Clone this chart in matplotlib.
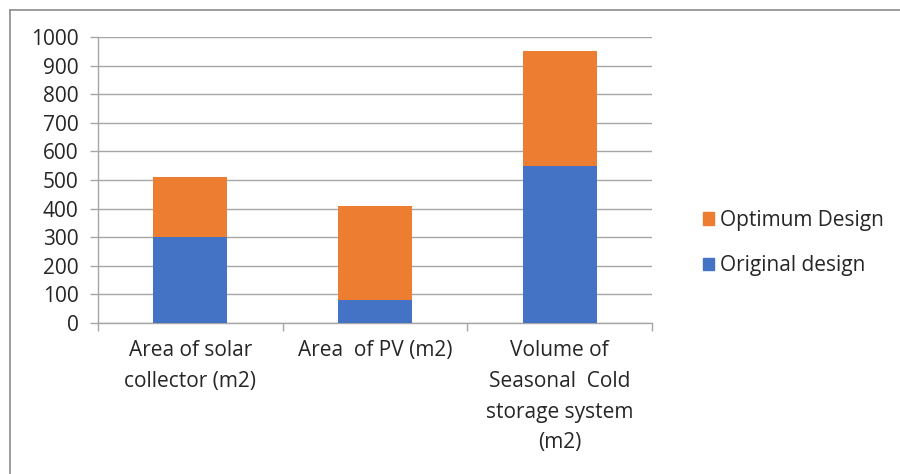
import matplotlib
matplotlib.use('Agg')
import matplotlib.pyplot as plt
from matplotlib.lines import Line2D
from matplotlib.patches import Patch
import numpy as np

plt.rcParams['font.family'] = ['Open Sans', 'DejaVu Sans']

categories = ['Area of solar\ncollector (m2)', 'Area  of PV (m2)',
              'Volume of\nSeasonal  Cold\nstorage system\n(m2)']
original = [300, 80, 550]
optimum = [210, 330, 400]
yticks = list(range(0, 1001, 100))

blue = '#4472C4'
orange = '#ED7D31'
grid_c = '#a6a6a6'
text_c = '#262626'
fs = 15

fig = plt.figure(figsize=(9, 4.74), dpi=100)
ax = fig.add_axes([98 / 900, 1 - 323 / 474, 554 / 900, 286 / 474])

x = np.arange(len(categories))
ax.bar(x, original, width=0.4, color=blue, zorder=3)
ax.bar(x, optimum, width=0.4, bottom=original, color=orange, zorder=3)

ax.set_xlim(-0.5, len(categories) - 0.5)
ax.set_ylim(0, 1000)
ax.set_yticks(yticks)
ax.yaxis.grid(True, color=grid_c, linewidth=1, zorder=0)
ax.set_axisbelow(True)

for s in ['top', 'right']:
    ax.spines[s].set_visible(False)
for s in ['left', 'bottom']:
    ax.spines[s].set_color(grid_c)
    ax.spines[s].set_linewidth(1)

ax.tick_params(axis='y', length=6, width=1, color=grid_c, pad=8,
               labelsize=fs, labelcolor=text_c)
ax.set_xticks(x)
ax.set_xticklabels(categories, fontsize=fs, color=text_c, linespacing=1.62, va='top')
ax.tick_params(axis='x', which='major', length=0, pad=12)
ax.set_xticks(np.arange(-0.5, len(categories), 1), minor=True)
ax.tick_params(axis='x', which='minor', length=6, width=1, color=grid_c)

handles = [Patch(color=orange, label='Optimum Design'),
           Patch(color=blue, label='Original design')]
fig.legend(handles=handles, loc='center left', bbox_to_anchor=(684 / 900, 1 - 243 / 474),
           frameon=False, fontsize=fs, handlelength=0.55, handleheight=0.55,
           handletextpad=0.3, labelspacing=1.18, labelcolor=text_c)

# chart frame (only top and left edges visible)
fig.add_artist(Line2D([10 / 900, 1], [1 - 10 / 474, 1 - 10 / 474], color='#8c8c8c', lw=1.2))
fig.add_artist(Line2D([10 / 900, 10 / 900], [0, 1 - 10 / 474], color='#8c8c8c', lw=1.2))

fig.savefig('out.png', dpi=100)
